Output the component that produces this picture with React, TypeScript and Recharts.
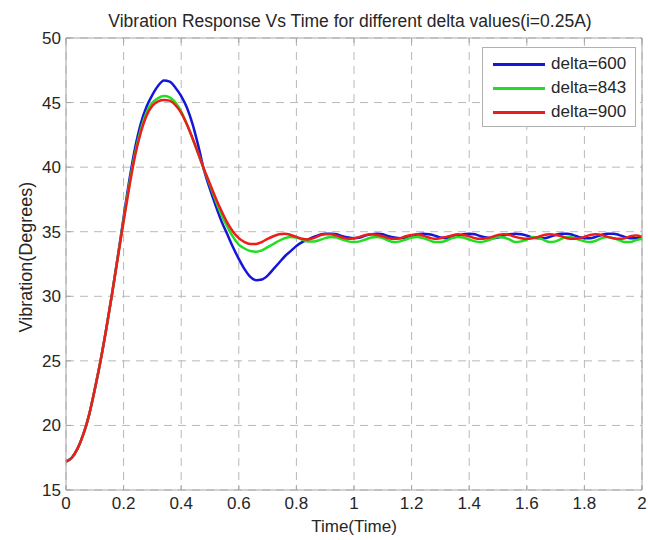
import { LineChart, Line, XAxis, YAxis, CartesianGrid, Legend } from 'recharts';

const FONT = '"Liberation Sans", Arial, sans-serif';
const TEXT = '#262626';
const AXIS = '#a6a6a6';

const TITLE = 'Vibration Response Vs Time for different delta values(i=0.25A)';
const X_LABEL = 'Time(Time)';
const Y_LABEL = 'Vibration(Degrees)';

const X_TICKS = [0, 0.2, 0.4, 0.6, 0.8, 1, 1.2, 1.4, 1.6, 1.8, 2];
const Y_TICKS = [15, 20, 25, 30, 35, 40, 45, 50];

// sampled every 0.02 s, 0 .. 2
const TIME = Array.from({ length: 101 }, (_, i) => Number((i * 0.02).toFixed(2)));

const DELTA_600 = [
  17.2, 17.5, 18.2, 19.3, 20.8, 22.8, 25.0, 27.5, 30.2, 33.1,
  36.1, 39.0, 41.5, 43.4, 44.7, 45.6, 46.3, 46.7, 46.62, 46.15,
  45.5, 44.6, 43.3, 41.6, 39.7, 38.3, 37.0, 35.8, 34.8, 33.8,
  32.9, 32.1, 31.5, 31.25, 31.3, 31.6, 32.1, 32.6, 33.1, 33.5,
  33.9, 34.2, 34.4, 34.6, 34.75, 34.85, 34.85, 34.8, 34.65, 34.55,
  34.5,
  34.55, 34.7, 34.8, 34.85, 34.8, 34.65, 34.55, 34.5, 34.55, 34.65,
  34.8, 34.85, 34.8, 34.7, 34.55, 34.5, 34.55, 34.65, 34.8, 34.85,
  34.8, 34.65, 34.55, 34.5, 34.55, 34.7, 34.8, 34.85, 34.8, 34.7,
  34.55, 34.5, 34.5, 34.6, 34.75, 34.85, 34.85, 34.75, 34.6, 34.5,
  34.5, 34.6, 34.75, 34.85, 34.85, 34.75, 34.6, 34.5, 34.5, 34.55,
];

const DELTA_843 = [
  17.2, 17.5, 18.2, 19.3, 20.8, 22.8, 25.0, 27.5, 30.2, 33.05,
  35.9, 38.7, 41.1, 42.95, 44.25, 45.0, 45.35, 45.5, 45.4, 45.0,
  44.3, 43.3, 42.2, 41.0, 39.75, 38.6, 37.4, 36.3, 35.4, 34.6,
  34.0, 33.7, 33.5, 33.45, 33.55, 33.8, 34.05, 34.3, 34.5, 34.6,
  34.55, 34.4, 34.25, 34.25, 34.35, 34.5, 34.6, 34.55, 34.4, 34.25,
  34.2,
  34.25, 34.4, 34.55, 34.6, 34.5, 34.3, 34.2, 34.25, 34.4, 34.55,
  34.6, 34.5, 34.35, 34.2, 34.2, 34.3, 34.5, 34.6, 34.55, 34.4,
  34.25, 34.2, 34.3, 34.45, 34.6, 34.55, 34.4, 34.2, 34.25, 34.4,
  34.6, 34.55, 34.35, 34.2, 34.25, 34.45, 34.6, 34.55, 34.4, 34.25,
  34.2, 34.3, 34.5, 34.6, 34.5, 34.35, 34.2, 34.2, 34.35, 34.45,
];

const DELTA_900 = [
  17.2, 17.5, 18.2, 19.3, 20.8, 22.8, 25.0, 27.5, 30.2, 33.0,
  35.8, 38.5, 40.9, 42.7, 44.0, 44.75, 45.1, 45.2, 45.15, 44.8,
  44.2, 43.3, 42.2, 41.0, 39.8, 38.7, 37.6, 36.6, 35.7, 35.0,
  34.5, 34.2, 34.05, 34.05, 34.2, 34.45, 34.65, 34.8, 34.85, 34.75,
  34.6, 34.45, 34.4, 34.5, 34.7, 34.8, 34.8, 34.7, 34.55, 34.45,
  34.5,
  34.6, 34.75, 34.8, 34.75, 34.65, 34.5, 34.45, 34.5, 34.65, 34.75,
  34.8, 34.7, 34.55, 34.45, 34.5, 34.6, 34.7, 34.8, 34.75, 34.65,
  34.5, 34.45, 34.5, 34.6, 34.75, 34.8, 34.75, 34.6, 34.5, 34.45,
  34.5, 34.6, 34.75, 34.8, 34.75, 34.65, 34.5, 34.45, 34.5, 34.6,
  34.75, 34.8, 34.75, 34.6, 34.5, 34.45, 34.5, 34.65, 34.7, 34.6,
];

const SERIES = [
  { key: 'd600', name: 'delta=600', color: '#1616d8' },
  { key: 'd843', name: 'delta=843', color: '#22dd22' },
  { key: 'd900', name: 'delta=900', color: '#ee1c1c' },
];

const data = TIME.map((t, i) => ({
  t,
  d600: DELTA_600[i],
  d843: DELTA_843[i],
  d900: DELTA_900[i],
}));

function LegendBox() {
  return (
    <div
      style={{
        width: 154,
        height: 80,
        boxSizing: 'border-box',
        border: '1px solid #b0b0b0',
        background: '#fff',
        paddingTop: 4,
        fontFamily: FONT,
        fontSize: 17,
        color: TEXT,
      }}
    >
      {SERIES.map((s) => (
        <div key={s.key} style={{ display: 'flex', alignItems: 'center', height: 24 }}>
          <span
            style={{
              display: 'inline-block',
              width: 52,
              height: 0,
              borderTop: `3px solid ${s.color}`,
              marginLeft: 10,
              marginRight: 6,
            }}
          />
          <span>{s.name}</span>
        </div>
      ))}
    </div>
  );
}

export default function App() {
  const tickStyle = { fill: TEXT, fontSize: 17, fontFamily: FONT };
  return (
    <div style={{ position: 'absolute', left: 0, top: 0, width: 648, height: 540, background: '#fff' }}>
      <LineChart width={648} height={540} data={data} margin={{ top: 0, right: 0, bottom: 0, left: 0 }}>
        <CartesianGrid stroke="#b8b8b8" strokeDasharray="8 6" />
        <XAxis
          dataKey="t"
          type="number"
          domain={[0, 2]}
          ticks={X_TICKS}
          interval={0}
          height={50}
          axisLine={{ stroke: AXIS }}
          tickLine={{ stroke: AXIS }}
          tickSize={-5}
          tickMargin={12}
          tick={tickStyle}
          label={{ value: X_LABEL, position: 'insideBottom', offset: 8, fill: TEXT, fontSize: 17, fontFamily: FONT }}
        />
        <XAxis
          xAxisId="top"
          orientation="top"
          dataKey="t"
          type="number"
          domain={[0, 2]}
          ticks={X_TICKS}
          interval={0}
          height={38}
          axisLine={{ stroke: AXIS }}
          tickLine={{ stroke: AXIS }}
          tickSize={-5}
          tickFormatter={() => ''}
          label={{ value: TITLE, position: 'center', dx: -4, dy: 2, fill: TEXT, fontSize: 17.5, fontFamily: FONT }}
        />
        <YAxis
          type="number"
          domain={[15, 50]}
          ticks={Y_TICKS}
          interval={0}
          width={66}
          axisLine={{ stroke: AXIS }}
          tickLine={{ stroke: AXIS }}
          tickSize={-5}
          tickMargin={10}
          tick={tickStyle}
          label={{ value: Y_LABEL, angle: -90, position: 'center', dx: -7, dy: -7, fill: TEXT, fontSize: 18, fontFamily: FONT }}
        />
        <YAxis
          yAxisId="right"
          orientation="right"
          type="number"
          domain={[15, 50]}
          ticks={Y_TICKS}
          interval={0}
          width={6}
          axisLine={{ stroke: AXIS }}
          tickLine={{ stroke: AXIS }}
          tickSize={-5}
          tickFormatter={() => ''}
        />
        {SERIES.map((s) => (
          <Line
            key={s.key}
            type="monotone"
            dataKey={s.key}
            name={s.name}
            stroke={s.color}
            strokeWidth={2.5}
            dot={false}
            isAnimationActive={false}
          />
        ))}
        <Legend
          layout="vertical"
          align="center"
          verticalAlign="middle"
          content={<LegendBox />}
          wrapperStyle={{ left: 482, top: 47, width: 154 }}
        />
      </LineChart>
    </div>
  );
}
